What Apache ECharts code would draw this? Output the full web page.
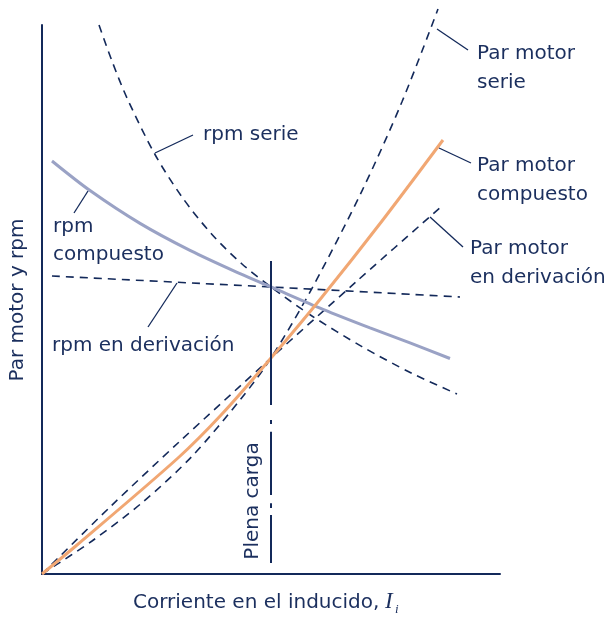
<!DOCTYPE html>
<html>
<head>
<meta charset="utf-8">
<script src="https://cdn.jsdelivr.net/npm/echarts@6/dist/echarts.min.js"></script>
<style>
html,body{margin:0;padding:0;background:#fff;}
#c{width:613px;height:617px;}
</style>
</head>
<body>
<div id="c"></div>
<script>
// ---- data (armature current in % of axis, torque / rpm in % of axis) ----
const fullLoadCurrent = 50;
const fullLoadMarkSegments = [[57.0, 30.8], [28.05, 27.3], [25.9, 14.4], [12.9, 12.0], [10.75, 2.0]];

const rpmSerieX = [12.45, 15.28, 18.56, 24.67, 30.57, 37.12, 43.67, 50, 58.95, 69.87, 80.79, 90.61];
const rpmSerieY = [100.0, 93.44, 86.7, 76.41, 68.67, 61.84, 56.47, 52.28, 46.99, 41.42, 36.54, 32.79];

const rpmCompuestoX = [2.18, 10.48, 21.4, 32.31, 43.23, 50, 61.35, 71.62, 80.35, 89.08];
const rpmCompuestoY = [75.23, 69.84, 63.86, 58.94, 54.7, 52.28, 48.21, 44.83, 42.09, 39.25];

const rpmDerivX = [2.18, 50, 91.27];
const rpmDerivY = [54.28, 52.28, 50.46];

const parSerieX = [0, 10.92, 21.83, 32.75, 43.67, 50, 58.95, 69.87, 78.6, 86.46];
const parSerieY = [0, 6.01, 12.98, 21.44, 32.15, 39.34, 52.04, 69.8, 86.01, 102.9];

const parDerivX = [0, 14.85, 29.69, 50, 68.78, 87.34];
const parDerivY = [0, 12.2, 23.86, 39.34, 53.37, 67.03];

const parCompuestoX = [0, 7.64, 29.69, 39.3, 50, 61.14, 74.24, 87.55];
const parCompuestoY = [0, 5.28, 21.13, 29.14, 39.34, 50.46, 64.3, 79.05];

// ---- styling ----
const NAVY = '#13295a';
const TEXT = '#1b2f5e';
const ORANGE = '#f1a773';
const GRAYBLUE = '#9aa2c5';
const FONT = 'DejaVu Sans';

const zip = (xs, ys) => xs.map((x, i) => [x, ys[i]]);

function dashed(name, xs, ys) {
  return {
    name, type: 'line', data: zip(xs, ys), smooth: 0.3,
    showSymbol: false, clip: false, z: 2,
    lineStyle: { color: NAVY, width: 1.6, type: [8, 6] }
  };
}
function solid(name, xs, ys, color) {
  return {
    name, type: 'line', data: zip(xs, ys), smooth: 0.3,
    showSymbol: false, clip: false, z: 3,
    lineStyle: { color, width: 3 }
  };
}

const series = [
  dashed('rpm serie', rpmSerieX, rpmSerieY),
  dashed('rpm en derivación', rpmDerivX, rpmDerivY),
  dashed('Par motor serie', parSerieX, parSerieY),
  dashed('Par motor en derivación', parDerivX, parDerivY),
  solid('rpm compuesto', rpmCompuestoX, rpmCompuestoY, GRAYBLUE),
  solid('Par motor compuesto', parCompuestoX, parCompuestoY, ORANGE)
];
fullLoadMarkSegments.forEach((s, i) => {
  series.push({
    name: 'plena' + i, type: 'line', data: [[fullLoadCurrent, s[0]], [fullLoadCurrent, s[1]]],
    showSymbol: false, z: 4, lineStyle: { color: NAVY, width: 2 }
  });
});

function txt(text, x, y, extra) {
  return Object.assign({
    type: 'text', x, y, z: 10,
    style: { text, fill: TEXT, font: '20px "' + FONT + '"', textAlign: 'left', textVerticalAlign: 'middle' }
  }, extra || {});
}
function lead(x1, y1, x2, y2) {
  return { type: 'line', z: 10, shape: { x1, y1, x2, y2 }, style: { stroke: NAVY, lineWidth: 1.3 } };
}

const graphic = [
  txt('rpm serie', 203, 135),
  lead(155, 153, 193, 135),
  txt('Par motor', 477, 54), txt('serie', 477, 83),
  lead(437, 29, 468, 50),
  txt('Par motor', 477, 166), txt('compuesto', 477, 195),
  lead(439, 148, 471, 163),
  txt('Par motor', 470, 249), txt('en derivación', 470, 278),
  lead(430, 217, 463, 247),
  txt('rpm', 53, 227), txt('compuesto', 53, 255),
  lead(88, 191, 74, 213),
  txt('rpm en derivación', 52, 346),
  lead(177, 283, 148, 327),
  {
    type: 'text', x: 253, y: 501, rotation: Math.PI / 2, z: 10,
    style: { text: 'Plena carga', fill: TEXT, font: '20px "' + FONT + '"', textAlign: 'center', textVerticalAlign: 'middle' }
  },
  {
    type: 'text', x: 18, y: 300, rotation: Math.PI / 2, z: 10,
    style: { text: 'Par motor y rpm', fill: TEXT, font: '20px "' + FONT + '"', textAlign: 'center', textVerticalAlign: 'middle' }
  },
  txt('Corriente en el inducido,', 133, 603),
  {
    type: 'text', x: 385, y: 602, z: 10,
    style: { text: 'I', fill: TEXT, font: 'italic 23px "Liberation Serif"', textAlign: 'left', textVerticalAlign: 'middle' }
  },
  {
    type: 'text', x: 395, y: 610, z: 10,
    style: { text: 'i', fill: TEXT, font: 'italic 13px "Liberation Serif"', textAlign: 'left', textVerticalAlign: 'middle' }
  }
];

const chart = echarts.init(document.getElementById('c'), null, { renderer: 'canvas' });
chart.setOption({
  animation: false,
  backgroundColor: '#ffffff',
  grid: { left: 42, right: 113, top: 25, bottom: 43, containLabel: false },
  xAxis: {
    type: 'value', min: 0, max: 100,
    axisLine: { show: true, lineStyle: { color: NAVY, width: 2 } },
    axisTick: { show: false }, axisLabel: { show: false }, splitLine: { show: false }
  },
  yAxis: {
    type: 'value', min: 0, max: 100,
    axisLine: { show: true, lineStyle: { color: NAVY, width: 2 } },
    axisTick: { show: false }, axisLabel: { show: false }, splitLine: { show: false }
  },
  series,
  graphic
});
</script>
</body>
</html>
